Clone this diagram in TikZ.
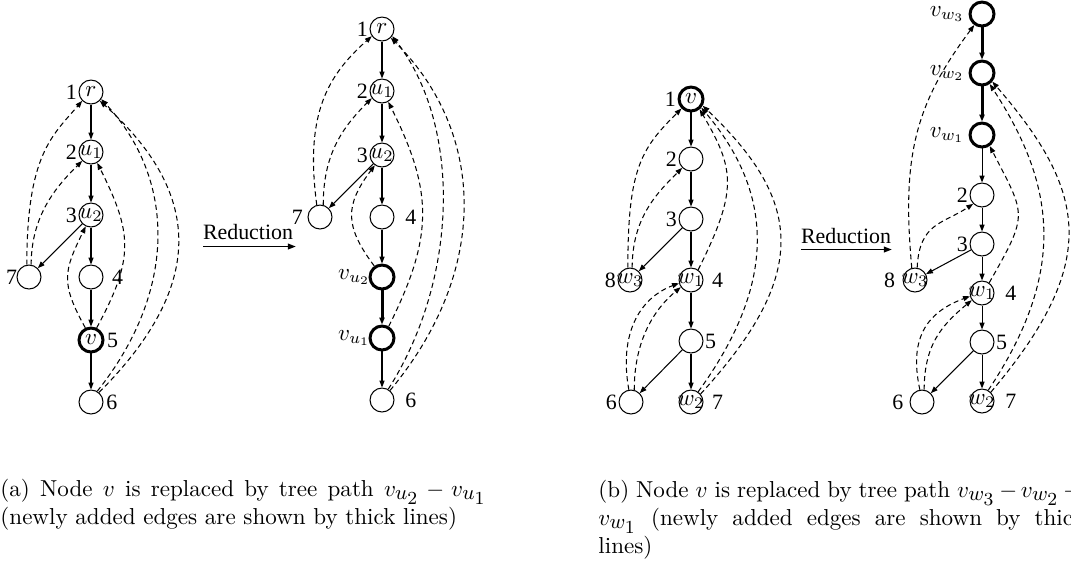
\documentclass[tikz,border=0pt]{standalone}
\usepackage{fontspec}
\newfontfamily\tms{Liberation Serif}
\usetikzlibrary{arrows.meta}
\DeclareMathSizes{10.01}{10.01}{9}{8}
\newcommand\nodetxt[1]{\makebox[0pt]{$#1$}}
\tikzset{
 vx/.style={circle, draw, line width=0.45pt, minimum size=10.4pt, inner sep=0pt},
 vxthick/.style={vx, line width=1.3pt},
 tedge/.style={line width=0.45pt, -{Triangle[length=3pt,width=2.2pt]}},
 tthick/.style={line width=1.3pt, -{Triangle[length=3pt,width=2.2pt]}},
 bedge/.style={line width=0.45pt, dash pattern=on 2.2pt off 1.5pt, -{Triangle[length=3pt,width=2.2pt]}},
 lbl/.style={font=\fontsize{9.5}{11}\selectfont\tms, inner sep=0.5pt},
 mlbl/.style={inner sep=0.5pt},
 redarrow/.style={line width=0.8pt, -{Triangle[length=3.5pt,width=2.4pt]}},
 captxt/.style={anchor=base west, inner sep=0pt, font=\fontsize{10.01}{12}\selectfont},
}
\begin{document}
\begin{tikzpicture}[x=0.434pt,y=-0.434pt]
\useasboundingbox (0,0) rectangle (1071,560);
\clip (0,0) rectangle (1071,560);

% ---------- (a) left ----------
\node[vx] (ar) at (91,92) {\nodetxt{r}};
\node[vx] (au1) at (91,152) {\nodetxt{u_1}};
\node[vx] (au2) at (91,215) {\nodetxt{u_2}};
\node[vx] (a4) at (91,277) {};
\node[vxthick] (av) at (91,340) {\nodetxt{v}};
\node[vx] (a6) at (91,402) {};
\node[vx] (a7) at (29,277) {};
\node[lbl,anchor=east] (arl) at (ar.west) {1};
\node[lbl,anchor=east] (au1l) at (au1.west) {2};
\node[lbl,anchor=east] (au2l) at (au2.west) {3};
\node[lbl,anchor=east] (a7l) at ([xshift=1pt]a7.west) {7};
\node[lbl,anchor=west] (a4l) at ([xshift=3pt]a4.east) {4};
\node[lbl,anchor=west] (avl) at ([xshift=0.5pt]av.east) {5};
\node[lbl,anchor=west] (a6l) at ([xshift=0.5pt]a6.east) {6};
\draw[tedge] (ar) -- (au1);
\draw[tedge] (au1) -- (au2);
\draw[tedge] (au2) -- (a4);
\draw[tedge] (a4) -- (av);
\draw[tedge] (av) -- (a6);
\draw[tedge] (au2) -- (a7);
\draw[bedge] (a7.100) .. controls +(0,-110) and +(-30,35) .. (ar.225);
\draw[bedge] (a7.80) .. controls +(0,-50) and +(-25,25) .. (au1.225);
\draw[bedge] (av.115) .. controls +(-25,-45) and +(-22,45) .. (au2.245);
\draw[bedge] (av.65) .. controls +(38,-70) and +(35,70) .. (au1.300);
\draw[bedge] (a6.60) .. controls +(80,-100) and +(75,80) .. (ar.325);
\draw[bedge] (a6.50) .. controls +(110,-110) and +(100,90) .. (ar.315);

% reduction (a)
\coordinate (ra1) at (203,246.5);
\coordinate (ra2) at (296,246.5);
\draw[redarrow] (ra1) -- (ra2);
\node[lbl,anchor=base] (rt1) at (248,239) {Reduction};

% ---------- (a) right ----------
\node[vx] (ar2) at (382,29) {\nodetxt{r}};
\node[vx] (au12) at (382,91) {\nodetxt{u_1}};
\node[vx] (au22) at (382,155) {\nodetxt{u_2}};
\node[vx] (a42) at (382,217) {};
\node[vxthick] (avu2) at (382,277) {};
\node[vxthick] (avu1) at (382,338) {};
\node[vx] (a62) at (382,400) {};
\node[vx] (a72) at (320,217) {};
\node[lbl,anchor=east] (ar2l) at (ar2.west) {1};
\node[lbl,anchor=east] (au12l) at (au12.west) {2};
\node[lbl,anchor=east] (au22l) at (au22.west) {3};
\node[lbl,anchor=east] (a72l) at ([xshift=-1.3pt]a72.west) {7};
\node[lbl,anchor=west] (a42l) at ([xshift=4pt]a42.east) {4};
\node[mlbl,anchor=east] (avu2l) at ([xshift=1.5pt]avu2.west) {$v_{u_2}$};
\node[mlbl,anchor=east] (avu1l) at ([xshift=1.5pt]avu1.west) {$v_{u_1}$};
\node[lbl,anchor=west] (a62l) at ([xshift=4pt]a62.east) {6};
\draw[tedge] (ar2) -- (au12);
\draw[tedge] (au12) -- (au22);
\draw[tedge] (au22) -- (a42);
\draw[tedge] (a42) -- (avu2);
\draw[tthick] (avu2) -- (avu1);
\draw[tedge] (avu1) -- (a62);
\draw[tedge] (au22) -- (a72);
\draw[bedge] (a72.105) .. controls +(-12,-90) and +(-45,40) .. (ar2.215);
\draw[bedge] (a72.75) .. controls +(0,-50) and +(-30,30) .. (au12.215);
\draw[bedge] (avu2.125) .. controls +(-30,-40) and +(-30,40) .. (au22.235);
\draw[bedge] (avu1.60) .. controls +(45,-90) and +(45,90) .. (au12.300);
\draw[bedge] (a62.60) .. controls +(70,-110) and +(70,90) .. (ar2.325);
\draw[bedge] (a62.50) .. controls +(100,-120) and +(95,95) .. (ar2.315);

% ---------- (b) left ----------
\node[vxthick] (bv) at (691,99) {\nodetxt{v}};
\node[vx] (b2) at (691,159) {};
\node[vx] (b3) at (691,219) {};
\node[vx] (bw1) at (691,280) {\nodetxt{w_1}};
\node[vx] (b5) at (691,341) {};
\node[vx] (bw2) at (691,402) {\nodetxt{w_2}};
\node[vx] (bw3) at (630,280) {\nodetxt{w_3}};
\node[vx] (b6) at (631,402) {};
\node[lbl,anchor=east] (bvl) at (bv.west) {1};
\node[lbl,anchor=east] (b2l) at (b2.west) {2};
\node[lbl,anchor=east] (b3l) at (b3.west) {3};
\node[lbl,anchor=east] (bw3l) at (bw3.west) {8};
\node[lbl,anchor=west] (bw1l) at ([xshift=3pt]bw1.east) {4};
\node[lbl,anchor=west] (b5l) at (b5.east) {5};
\node[lbl,anchor=east] (b6l) at (b6.west) {6};
\node[lbl,anchor=west] (bw2l) at ([xshift=3pt]bw2.east) {7};
\draw[tedge] (bv) -- (b2);
\draw[tedge] (b2) -- (b3);
\draw[tedge] (b3) -- (bw1);
\draw[tedge] (b3) -- (bw3);
\draw[tedge] (bw1) -- (b5);
\draw[tedge] (b5) -- (bw2);
\draw[tedge] (b5) -- (b6);
\draw[bedge] (bw3.100) .. controls +(0,-100) and +(-40,40) .. (bv.225);
\draw[bedge] (bw3.80) .. controls +(0,-50) and +(-25,25) .. (b2.225);
\draw[bedge] (bw1.55) .. controls +(40,-80) and +(35,60) .. (bv.310);
\draw[bedge] (bw2.55) .. controls +(80,-110) and +(72,85) .. (bv.320);
\draw[bedge] (bw2.40) .. controls +(110,-120) and +(100,95) .. (bv.330);
\draw[bedge] (b6.100) .. controls +(-10,-55) and +(-40,15) .. (bw1.195);
\draw[bedge] (b6.75) .. controls +(0,-45) and +(-30,25) .. (bw1.215);

% reduction (b)
\coordinate (rb1) at (801,249.5);
\coordinate (rb2) at (892,249.5);
\draw[redarrow] (rb1) -- (rb2);
\node[lbl,anchor=base] (rt2) at (846,243.5) {Reduction};

% ---------- (b) right ----------
\node[vxthick] (cw3v) at (982,14) {};
\node[vxthick] (cw2v) at (982,73) {};
\node[vxthick] (cw1v) at (982,135) {};
\node[vx] (c2) at (982,195) {};
\node[vx] (c3) at (982,244) {};
\node[vx] (cw1) at (982,293) {\nodetxt{w_1}};
\node[vx] (c5) at (982,342) {};
\node[vx] (cw2) at (982,401) {\nodetxt{w_2}};
\node[vx] (cw3) at (915,280) {\nodetxt{w_3}};
\node[vx] (c6) at (922,402) {};
\node[mlbl,anchor=east] (cw3vl) at ([xshift=-1pt]cw3v.west) {$v_{w_3}$};
\node[mlbl,anchor=east] (cw2vl) at ([xshift=-1pt]cw2v.west) {$v_{w_2}$};
\node[mlbl,anchor=east] (cw1vl) at ([xshift=-1pt]cw1v.west) {$v_{w_1}$};
\node[lbl,anchor=east] (c2l) at (c2.west) {2};
\node[lbl,anchor=east] (c3l) at (c3.west) {3};
\node[lbl,anchor=east] (cw3l) at ([xshift=-2.5pt]cw3.west) {8};
\node[lbl,anchor=west] (cw1l) at ([xshift=4pt]cw1.east) {4};
\node[lbl,anchor=west] (c5l) at (c5.east) {5};
\node[lbl,anchor=east] (c6l) at ([xshift=-2pt]c6.west) {6};
\node[lbl,anchor=west] (cw2l) at ([xshift=4pt]cw2.east) {7};
\draw[tthick] (cw3v) -- (cw2v);
\draw[tthick] (cw2v) -- (cw1v);
\draw[tedge] (cw1v) -- (c2);
\draw[tedge] (c2) -- (c3);
\draw[tedge] (c3) -- (cw1);
\draw[tedge] (c3) -- (cw3);
\draw[tedge] (cw1) -- (c5);
\draw[tedge] (c5) -- (cw2);
\draw[tedge] (c5) -- (c6);
\draw[bedge] (cw3.105) .. controls +(-10,-110) and +(-60,80) .. (cw3v.235);
\draw[bedge] (cw3.80) .. controls +(2,-45) and +(-30,20) .. (c2.225);
\draw[bedge] (cw1.55) .. controls +(40,-70) and +(36,70) .. (cw1v.305);
\draw[bedge] (cw2.60) .. controls +(80,-120) and +(65,100) .. (cw2v.305);
\draw[bedge] (cw2.45) .. controls +(110,-130) and +(95,110) .. (cw2v.320);
\draw[bedge] (c6.100) .. controls +(-12,-55) and +(-40,15) .. (cw1.195);
\draw[bedge] (c6.80) .. controls +(0,-45) and +(-30,25) .. (cw1.215);

% ---------- captions ----------
\node[captxt] (capa1) at (0,496.5) {\makebox[211pt][s]{(a) Node $v$ is replaced by tree path $v_{u_2}-v_{u_1}$}};
\node[captxt] (capa2) at (0,524) {(newly added edges are shown by thick lines)};
\node[captxt] (capb1) at (598,497) {\makebox[211pt][s]{(b) Node $v$ is replaced by tree path $v_{w_3}-v_{w_2}-{}$}};
\node[captxt] (capb2) at (598,525) {\makebox[211pt][s]{$v_{w_1}$ (newly added edges are shown by thick}};
\node[captxt] (capb3) at (598,553) {lines)};
\end{tikzpicture}
\end{document}
